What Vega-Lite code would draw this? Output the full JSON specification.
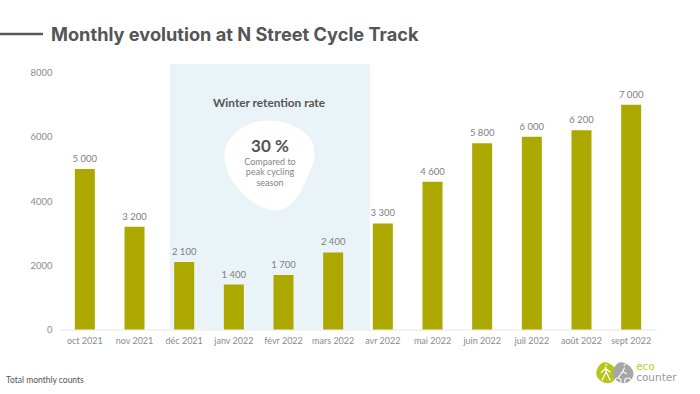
{
"$schema":"https://vega.github.io/schema/vega-lite/v6.json",
"width":596,"height":257,
"autosize":"none",
"padding":{"left":60,"top":72.5,"right":44,"bottom":64.5},
"background":"#ffffff",
"title":{"text":"Monthly evolution at N Street Cycle Track","anchor":"start","frame":"group","dx":-9,"offset":-12,"font":"Inter","fontSize":18.2,"fontWeight":700,"color":"#555555"},
"config":{"view":{"stroke":null}},
"resolve":{"scale":{"x":"independent"}},
"datasets":{
"months":[
{"month":"oct 2021","count":5000,"label":"5 000"},
{"month":"nov 2021","count":3200,"label":"3 200"},
{"month":"déc 2021","count":2100,"label":"2 100"},
{"month":"janv 2022","count":1400,"label":"1 400"},
{"month":"févr 2022","count":1700,"label":"1 700"},
{"month":"mars 2022","count":2400,"label":"2 400"},
{"month":"avr 2022","count":3300,"label":"3 300"},
{"month":"mai 2022","count":4600,"label":"4 600"},
{"month":"juin 2022","count":5800,"label":"5 800"},
{"month":"juil 2022","count":6000,"label":"6 000"},
{"month":"août 2022","count":6200,"label":"6 200"},
{"month":"sept 2022","count":7000,"label":"7 000"}],
"notes":[
{"t":"Winter retention rate","px":4.208,"py":7050,"kind":"head"},
{"t":"30 %","px":4.228,"py":5680,"kind":"big"},
{"t":"Compared to","px":4.228,"py":5214,"kind":"small"},
{"t":"peak cycling","px":4.228,"py":4903,"kind":"small"},
{"t":"season","px":4.228,"py":4560,"kind":"small"}]
},
"layer":[
{"layer":[
{"data":{"values":[{"a":2.215,"b":6.24,"c":8265,"d":0}]},
"mark":{"type":"rect","color":"#EAF3F7"},
"encoding":{"x":{"field":"a","type":"quantitative","scale":{"domain":[0,12]},"axis":null},"x2":{"field":"b"},"y":{"field":"c","type":"quantitative","scale":{"domain":[0,8000],"nice":false}},"y2":{"field":"d"}}},
{"data":{"values":[{"a":4.228,"c":5105}]},
"mark":{"type":"point","filled":true,"opacity":1,"color":"#ffffff","size":8100,"clip":false,"shape":"M-0.04,-1 C0.35,-1 0.7,-0.85 0.88,-0.62 C1.03,-0.42 1.03,-0.15 0.88,0.15 C0.72,0.55 0.5,1 0.12,1 C-0.2,1 -0.5,0.75 -0.74,0.47 C-0.95,0.2 -1.05,-0.1 -1,-0.3 C-0.95,-0.7 -0.5,-1 -0.04,-1Z"},
"encoding":{"x":{"field":"a","type":"quantitative","axis":null},"y":{"field":"c","type":"quantitative"}}},
{"data":{"name":"notes"},"transform":[{"filter":"datum.kind=='head'"}],
"mark":{"type":"text","font":"Lato","fontSize":11.8,"fontWeight":700,"color":"#555555","align":"center","baseline":"middle"},
"encoding":{"x":{"field":"px","type":"quantitative","axis":null},"y":{"field":"py","type":"quantitative"},"text":{"field":"t"}}},
{"data":{"name":"notes"},"transform":[{"filter":"datum.kind=='big'"}],
"mark":{"type":"text","font":"Lato","fontSize":17,"fontWeight":700,"color":"#555555","align":"center","baseline":"middle"},
"encoding":{"x":{"field":"px","type":"quantitative","axis":null},"y":{"field":"py","type":"quantitative"},"text":{"field":"t"}}},
{"data":{"name":"notes"},"transform":[{"filter":"datum.kind=='small'"}],
"mark":{"type":"text","font":"Lato","fontSize":9,"color":"#858585","align":"center","baseline":"middle"},
"encoding":{"x":{"field":"px","type":"quantitative","axis":null},"y":{"field":"py","type":"quantitative"},"text":{"field":"t"}}},
{"data":{"values":[{"a":-1.208,"b":-0.342,"c":9199}]},
"mark":{"type":"rule","color":"#595959","strokeWidth":2.5},
"encoding":{"x":{"field":"a","type":"quantitative","axis":null},"x2":{"field":"b"},"y":{"field":"c","type":"quantitative"}}},
{"data":{"values":[{"t":"Total monthly counts","a":-1.087,"c":-1572}]},
"mark":{"type":"text","font":"Lato","fontSize":8.5,"color":"#555555","align":"left","baseline":"middle"},
"encoding":{"x":{"field":"a","type":"quantitative","axis":null},"y":{"field":"c","type":"quantitative"},"text":{"field":"t"}}},
{"data":{"values":[{"a":11.007,"c":-1345}]},
"mark":{"type":"point","filled":true,"opacity":1,"color":"#B7C41A","size":441,"shape":"M-0.2,-1 C0.3,-1 0.9,-0.5 1,0 C1,0.6 0.6,0.95 0.1,1 C-0.4,1 -0.95,0.6 -1,0.1 C-1,-0.4 -0.6,-1 -0.2,-1Z"},
"encoding":{"x":{"field":"a","type":"quantitative","axis":null},"y":{"field":"c","type":"quantitative"}}},
{"data":{"values":[{"a":11.337,"c":-1345}]},
"mark":{"type":"point","filled":true,"opacity":1,"color":"#A6A6A6","size":441,"shape":"M-0.2,-1 C0.3,-1 0.9,-0.5 1,0 C1,0.6 0.6,0.95 0.1,1 C-0.4,1 -0.95,0.6 -1,0.1 C-1,-0.4 -0.6,-1 -0.2,-1Z"},
"encoding":{"x":{"field":"a","type":"quantitative","axis":null},"y":{"field":"c","type":"quantitative"}}},
{"data":{"values":[{"a":11.007,"c":-1345}]},
"mark":{"type":"point","filled":false,"opacity":1,"color":"#ffffff","strokeWidth":1.3,"size":441,"shape":"M-0.1,-0.55 L-0.05,-0.1 L-0.45,0.75 M-0.05,-0.1 L0.35,0.75 M-0.1,-0.4 L-0.55,0 M-0.1,-0.4 L0.35,-0.05 M-0.15,-0.75 L0.05,-0.75"},
"encoding":{"x":{"field":"a","type":"quantitative","axis":null},"y":{"field":"c","type":"quantitative"}}},
{"data":{"values":[{"a":11.337,"c":-1345}]},
"mark":{"type":"point","filled":false,"opacity":1,"color":"#ffffff","strokeWidth":1.1,"size":441,"shape":"M-0.5,0.5 A0.3,0.3 0 1 0 -0.49,0.5 M0.45,0.5 A0.3,0.3 0 1 0 0.46,0.5 M-0.45,0.45 L-0.05,-0.1 L0.35,0.1 M-0.05,-0.1 L0.15,-0.5 M0.05,-0.75 L0.25,-0.75"},
"encoding":{"x":{"field":"a","type":"quantitative","axis":null},"y":{"field":"c","type":"quantitative"}}},
{"data":{"values":[{"t":"eco","a":11.6,"c":-1170}]},
"mark":{"type":"text","font":"DejaVu Sans","fontSize":10.5,"color":"#C2CC1E","align":"left","baseline":"middle"},
"encoding":{"x":{"field":"a","type":"quantitative","axis":null},"y":{"field":"c","type":"quantitative"},"text":{"field":"t"}}},
{"data":{"values":[{"t":"counter","a":11.6,"c":-1525}]},
"mark":{"type":"text","font":"DejaVu Sans","fontSize":10.5,"color":"#9A9A9A","align":"left","baseline":"middle"},
"encoding":{"x":{"field":"a","type":"quantitative","axis":null},"y":{"field":"c","type":"quantitative"},"text":{"field":"t"}}}
]},
{"data":{"name":"months"},"layer":[
{"mark":{"type":"bar","size":20,"color":"#ADA800"},
"encoding":{
"x":{"field":"month","type":"nominal","sort":null,"title":null,"scale":{"paddingInner":0,"paddingOuter":0},
"axis":{"labelAngle":0,"ticks":false,"domainColor":"#E6E6E6","labelColor":"#8C8C8C","labelFont":"Lato","labelFontSize":9,"labelPadding":7,"labelOverlap":false}},
"y":{"field":"count","type":"quantitative","title":null,"axis":{"values":[0,2000,4000,6000,8000],"format":"d","grid":false,"ticks":false,"domain":false,"labelColor":"#8C8C8C","labelFont":"Lato","labelFontSize":9.5,"labelPadding":8}}}},
{"mark":{"type":"text","font":"Lato","fontSize":9.5,"color":"#808080","baseline":"bottom","dy":-5},
"encoding":{"x":{"field":"month","type":"nominal","sort":null},"y":{"field":"count","type":"quantitative"},"text":{"field":"label"}}}
]}
]
}
